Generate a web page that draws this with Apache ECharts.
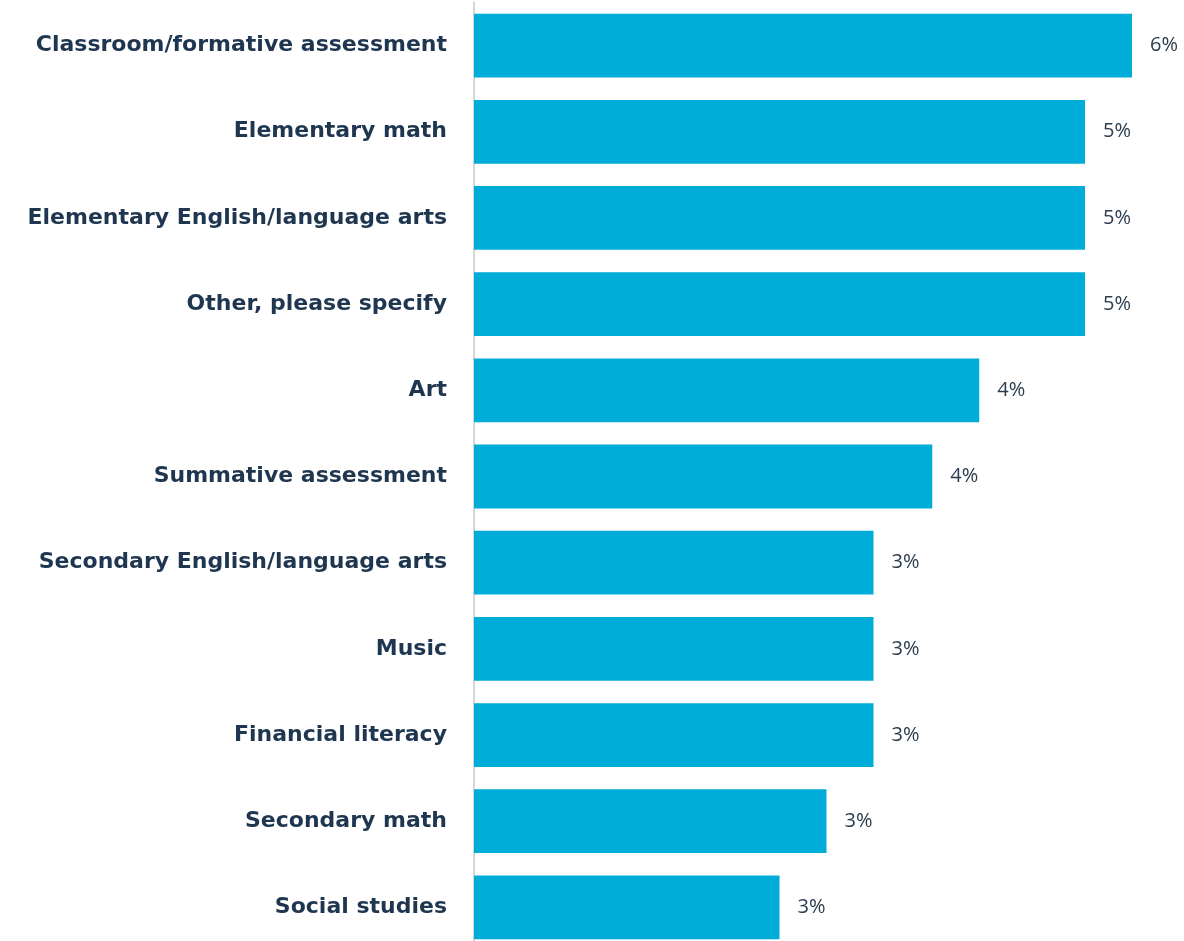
<!DOCTYPE html>
<html>
<head>
<meta charset="utf-8">
<script src="https://cdn.jsdelivr.net/npm/echarts@6/dist/echarts.min.js"></script>
<style>
  html, body { margin: 0; padding: 0; background: #ffffff; }
  #chart { width: 1184px; height: 941px; }
</style>
</head>
<body>
<div id="chart"></div>
<script>
// Subject areas, top to bottom
const categories = [
  'Classroom/formative assessment',
  'Elementary math',
  'Elementary English/language arts',
  'Other, please specify',
  'Art',
  'Summative assessment',
  'Secondary English/language arts',
  'Music',
  'Financial literacy',
  'Secondary math',
  'Social studies'
];
// Share of responses, percent
const shares = [5.6, 5.2, 5.2, 5.2, 4.3, 3.9, 3.4, 3.4, 3.4, 3.0, 2.6];

const chart = echarts.init(document.getElementById('chart'), null, { renderer: 'canvas' });

chart.setOption({
  animation: false,
  grid: {
    left: 474, top: 2.5, width: 705, height: 948,
    containLabel: false,
    outerBoundsMode: 'none'
  },
  xAxis: {
    type: 'value',
    min: 0,
    max: 6,
    show: false
  },
  yAxis: {
    type: 'category',
    data: categories,
    inverse: true,
    axisLine: { show: true, lineStyle: { color: '#d6d6d6', width: 2 } },
    axisTick: { show: false },
    axisLabel: {
      margin: 27,
      color: '#1f3650',
      fontFamily: 'DejaVu Sans',
      fontWeight: 'bold',
      fontSize: 22
    }
  },
  series: [{
    type: 'bar',
    data: shares,
    barCategoryGap: '26%',
    itemStyle: { color: '#00acd8' },
    label: {
      show: true,
      position: 'right',
      distance: 18,
      color: '#2a3c4e',
      fontFamily: 'Open Sans',
      fontSize: 20,
      formatter: p => Math.round(p.value) + '%'
    }
  }]
});
</script>
</body>
</html>
